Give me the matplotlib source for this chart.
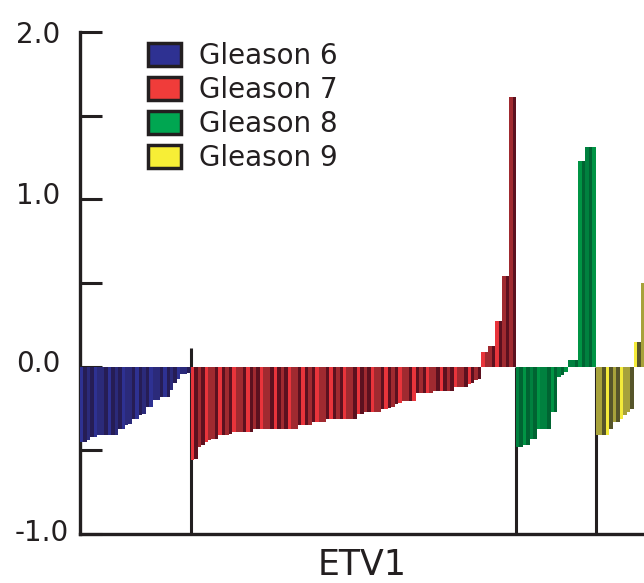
import matplotlib
matplotlib.use("Agg")
import matplotlib.pyplot as plt
import matplotlib.transforms as mtransforms
from matplotlib.patches import Patch
import numpy as np

# ---- data ----
groups = ["Gleason 6", "Gleason 7", "Gleason 8", "Gleason 9"]
gleason6 = [-0.45, -0.45, -0.44, -0.42, -0.42, -0.41, -0.41, -0.41, -0.41, -0.41, -0.41,
            -0.37, -0.37, -0.35, -0.34, -0.31, -0.31, -0.29, -0.28, -0.24, -0.24, -0.20, -0.20,
            -0.18, -0.18, -0.18, -0.14, -0.10, -0.075, -0.045, -0.045, -0.035]
gleason7 = ([-0.56, -0.55, -0.48, -0.47, -0.45, -0.44, -0.43, -0.43, -0.41, -0.41, -0.41, -0.40]
            + [-0.39] * 6 + [-0.37] * 13 + [-0.35] * 4 + [-0.33] * 4 + [-0.31] * 8
            + [-0.31, -0.285, -0.28] + [-0.27] * 5 + [-0.255, -0.25, -0.245, -0.24, -0.225, -0.22]
            + [-0.205] * 4 + [-0.16] * 5 + [-0.145] * 6 + [-0.12] * 4 + [-0.105, -0.10, -0.08, -0.075]
            + [0.085, 0.085, 0.125, 0.125, 0.275, 0.275, 0.54, 0.54, 1.61, 1.61])
gleason8 = [-0.48, -0.48, -0.47, -0.47, -0.43, -0.43, -0.37, -0.37, -0.37, -0.37, -0.27, -0.27,
            -0.06, -0.05, -0.03, 0.04, 0.04, 0.04, 1.23, 1.23, 1.31, 1.31, 1.31]
gleason9 = [-0.41, -0.41, -0.41, -0.41, -0.37, -0.33, -0.33, -0.31, -0.29, -0.27, -0.25,
            0.15, 0.15, 0.50]
series = [gleason6, gleason7, gleason8, gleason9]
yticks = [-1.0, 0.0, 1.0, 2.0]
ytick_labels = ["-1.0", "0.0", "1.0", "2.0"]
xlabel = "ETV1"

# ---- style ----
legend_colors = ["#2e3192", "#f03c3a", "#00a651", "#f7ee36"]
shades = [
    ["#2e3192", "#2b2a7a", "#261d55"],
    ["#e8343b", "#a02a30", "#5c111f"],
    ["#009444", "#00813f", "#006432"],
    ["#f4eb3a", "#a7a23b", "#56552a"],
]
pattern = [0, 2, 1, 2, 0, 1, 1, 2]
ink = "#231f20"
FONT = "DejaVu Sans"

fig = plt.figure(figsize=(6.44, 5.83), dpi=100)
ax = fig.add_axes([80 / 644, 49 / 583, 1 - 80 / 644, (551 - 49) / 583])

start = 0
boundaries = []
k = 0
for gi, vals in enumerate(series):
    x = np.arange(start, start + len(vals))
    cols = []
    for i, v in enumerate(vals):
        c = shades[gi][pattern[(k + i) % len(pattern)]]
        if v > 0.5 and gi == 1:
            c = shades[gi][1] if i % 2 == 0 else shades[gi][2]
        cols.append(c)
    k += len(vals)
    ax.bar(x, vals, width=1.0, color=cols, linewidth=0, zorder=3)
    start += len(vals)
    boundaries.append(start - 0.5)

for j, b in enumerate(boundaries[:-1]):
    top = 0.11 if j == 0 else 0.0
    ax.vlines(b, -1.0, top, color=ink, linewidth=2.2, zorder=2)

ax.set_xlim(-0.5, start - 0.5)
ax.set_ylim(-1.0, 2.0)

for s in ["top", "right"]:
    ax.spines[s].set_visible(False)
for s in ["left", "bottom"]:
    ax.spines[s].set_linewidth(2.4)
    ax.spines[s].set_color(ink)

ax.set_xticks([])
ax.set_yticks(yticks)
ax.set_yticklabels(ytick_labels, fontsize=20, family=FONT, color=ink)
ax.set_yticks([-0.5, 0.5, 1.5], minor=True)
ax.tick_params(axis="y", which="both", direction="in", length=16, width=2.2,
               color=ink, pad=14)
# the bottom label sits closer to the axis in the reference
lbl = ax.get_yticklabels()[0]
lbl.set_transform(lbl.get_transform() +
                  mtransforms.ScaledTranslation(8 / 100, 4 / 100, fig.dpi_scale_trans))
for lb in ax.get_yticklabels()[1:3]:
    lb.set_transform(lb.get_transform() +
                     mtransforms.ScaledTranslation(0, 6 / 100, fig.dpi_scale_trans))

ax.set_xlabel(xlabel, fontsize=25, family=FONT, color=ink, labelpad=10)

handles = [Patch(facecolor=c, edgecolor=ink, linewidth=2.5) for c in legend_colors]
leg = ax.legend(handles, groups, loc="upper left",
                bbox_to_anchor=(148 / 644, 1 - 42 / 583), bbox_transform=fig.transFigure,
                frameon=False, prop={"family": FONT, "size": 20},
                handlelength=1.2, handleheight=0.9, handletextpad=0.65,
                labelspacing=0.22, borderpad=0, borderaxespad=0)
for t in leg.get_texts():
    t.set_color(ink)

fig.savefig("out.png", dpi=100)
